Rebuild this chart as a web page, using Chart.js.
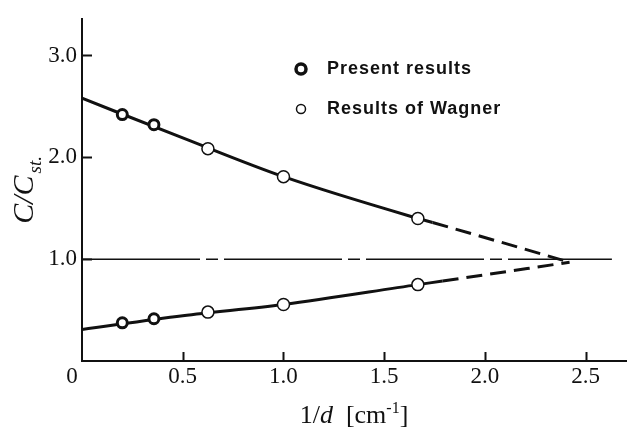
<!DOCTYPE html>
<html>
<head>
<meta charset="utf-8">
<script src="https://cdn.jsdelivr.net/npm/chart.js@4/dist/chart.umd.min.js"></script>
<style>body{margin:0;background:#fff}</style>
</head>
<body>
<canvas id="chart" width="634" height="428"></canvas>
<script>
var xTicks = [0, 0.5, 1.0, 1.5, 2.0, 2.5];
var yTicks = [1.0, 2.0, 3.0];

// measured points, x = 1/d
var presentX = [0.2, 0.357];
var presentUpper = [2.42, 2.32];
var presentLower = [0.375, 0.415];

var wagnerX = [0.625, 1.0, 1.667];
var wagnerUpper = [2.085, 1.81, 1.40];
var wagnerLower = [0.48, 0.555, 0.75];

// faired curves (dashed beyond x = 1.7)
var upperCurveX = [0, 0.5, 1.0, 1.667, 1.74, 2.42];
var upperCurveY = [2.58, 2.19, 1.81, 1.40, 1.36, 0.97];
var lowerCurveX = [0, 0.5, 1.0, 1.667, 1.79, 2.42];
var lowerCurveY = [0.31, 0.445, 0.555, 0.75, 0.785, 0.97];

var refLineX = [0, 2.63];
var refLineY = [1.0, 1.0];

var legendLabels = ['Present results', 'Results of Wagner'];

function pts(xs, ys) {
    return xs.map(function (x, i) { return {x: x, y: ys[i]}; });
}

var ink = '#111';
var serif = '"Liberation Serif", "DejaVu Serif", serif';

var dashAfter = function (c) {
    return c.p0.parsed.x >= 1.7 ? [16, 8] : undefined;
};

var presentStyle = {pointRadius: 5, pointBorderWidth: 3, pointBackgroundColor: '#fff', pointBorderColor: ink};
var wagnerStyle = {pointRadius: 6, pointBorderWidth: 1.5, pointBackgroundColor: '#fff', pointBorderColor: ink};

var datasets = [
    Object.assign({label: legendLabels[0], data: pts(presentX, presentUpper), showLine: false, order: 0}, presentStyle),
    Object.assign({label: legendLabels[0], data: pts(presentX, presentLower), showLine: false, order: 0}, presentStyle),
    Object.assign({label: legendLabels[1], data: pts(wagnerX, wagnerUpper), showLine: false, order: 0}, wagnerStyle),
    Object.assign({label: legendLabels[1], data: pts(wagnerX, wagnerLower), showLine: false, order: 0}, wagnerStyle),
    {
        label: 'upper', data: pts(upperCurveX, upperCurveY), showLine: true, pointRadius: 0,
        borderColor: ink, borderWidth: 3, cubicInterpolationMode: 'monotone',
        segment: {borderDash: dashAfter}, order: 1
    },
    {
        label: 'lower', data: pts(lowerCurveX, lowerCurveY), showLine: true, pointRadius: 0,
        borderColor: ink, borderWidth: 3, cubicInterpolationMode: 'monotone',
        segment: {borderDash: dashAfter}, order: 1
    },
    {
        label: 'C = Cst', data: pts(refLineX, refLineY), showLine: true, pointRadius: 0,
        borderColor: ink, borderWidth: 1.5, borderDash: [118, 6, 12, 6], order: 2
    }
];

// tick marks inside the axes, axis titles, legend
var decor = {
    id: 'decor',
    afterDraw: function (chart) {
        var ctx = chart.ctx;
        var xs = chart.scales.x, ys = chart.scales.y;
        var area = chart.chartArea;
        ctx.save();
        ctx.strokeStyle = ink;
        ctx.fillStyle = ink;
        ctx.lineWidth = 2;
        xTicks.forEach(function (v) {
            if (v === 0) return;
            var px = Math.round(xs.getPixelForValue(v)) + 0.5;
            ctx.beginPath();
            ctx.moveTo(px, area.bottom);
            ctx.lineTo(px, area.bottom - 9);
            ctx.stroke();
        });
        yTicks.forEach(function (v) {
            var py = Math.round(ys.getPixelForValue(v)) + 0.5;
            ctx.beginPath();
            ctx.moveTo(area.left, py);
            ctx.lineTo(area.left + 10, py);
            ctx.stroke();
        });

        // origin label sits left of the corner
        ctx.font = '23px ' + serif;
        ctx.textAlign = 'center';
        ctx.textBaseline = 'middle';
        ctx.fillText('0', xs.getPixelForValue(0) - 10, area.bottom + 16);

        // y title C/C_st.
        ctx.save();
        ctx.translate(33, (area.top + area.bottom) / 2);
        ctx.rotate(-Math.PI / 2);
        ctx.textAlign = 'left';
        ctx.textBaseline = 'alphabetic';
        ctx.font = 'italic 30px ' + serif;
        var main = 'C/C';
        var wMain = ctx.measureText(main).width;
        ctx.font = 'italic 19px ' + serif;
        var sub = 'st.';
        var wSub = ctx.measureText(sub).width;
        var start = -(wMain + wSub + 2) / 2;
        ctx.font = 'italic 30px ' + serif;
        ctx.fillText(main, start, 0);
        ctx.font = 'italic 19px ' + serif;
        ctx.fillText(sub, start + wMain + 2, 8);
        ctx.restore();

        // x title 1/d [cm^-1]
        var parts = [
            {t: '1/', f: '26px ' + serif, dy: 0},
            {t: 'd', f: 'italic 26px ' + serif, dy: 0},
            {t: '  [cm', f: '26px ' + serif, dy: 0},
            {t: '-1', f: '16px ' + serif, dy: -10},
            {t: ']', f: '26px ' + serif, dy: 0}
        ];
        var total = 0;
        parts.forEach(function (p) { ctx.font = p.f; p.w = ctx.measureText(p.t).width; total += p.w; });
        var x0 = (area.left + area.right) / 2 - total / 2;
        ctx.textAlign = 'left';
        ctx.textBaseline = 'alphabetic';
        parts.forEach(function (p) {
            ctx.font = p.f;
            ctx.fillText(p.t, x0, 423 + p.dy);
            x0 += p.w;
        });

        // legend
        var lx = area.left + 219, ly = [69, 109];
        ctx.fillStyle = '#fff';
        ctx.beginPath(); ctx.arc(lx, ly[0], 5, 0, Math.PI * 2); ctx.fill();
        ctx.lineWidth = 3.5; ctx.stroke();
        ctx.beginPath(); ctx.arc(lx, ly[1], 4.5, 0, Math.PI * 2); ctx.fill();
        ctx.lineWidth = 1.5; ctx.stroke();
        ctx.fillStyle = ink;
        ctx.font = 'bold 18px "Liberation Sans", Arial, sans-serif';
        ctx.letterSpacing = '1px';
        ctx.textBaseline = 'middle';
        legendLabels.forEach(function (s, i) {
            ctx.fillText(s, lx + 26, ly[i]);
        });
        ctx.restore();
    }
};

new Chart(document.getElementById('chart'), {
    type: 'scatter',
    data: {datasets: datasets},
    plugins: [decor],
    options: {
        responsive: false,
        devicePixelRatio: 1,
        animation: false,
        layout: {padding: {top: 15, right: 1, left: 0, bottom: 0}},
        plugins: {legend: {display: false}, tooltip: {enabled: false}},
        scales: {
            x: {
                type: 'linear', min: 0, max: 2.70,
                grid: {display: false, drawTicks: false},
                border: {display: true, color: ink, width: 2},
                afterFit: function (s) { s.height = 67; },
                ticks: {
                    stepSize: 0.5, includeBounds: false, padding: 2, color: ink,
                    font: {family: serif, size: 23},
                    callback: function (v) { return v === 0 ? '' : v.toFixed(1); }
                }
            },
            y: {
                type: 'linear', min: 0, max: 3.36,
                grid: {display: false, drawTicks: false},
                border: {display: true, color: ink, width: 2},
                afterFit: function (s) { s.width = 82; },
                ticks: {
                    stepSize: 1, includeBounds: false, padding: 5, color: ink,
                    font: {family: serif, size: 23},
                    callback: function (v) { return v === 0 ? '' : v.toFixed(1); }
                }
            }
        }
    }
});
</script>
</body>
</html>
